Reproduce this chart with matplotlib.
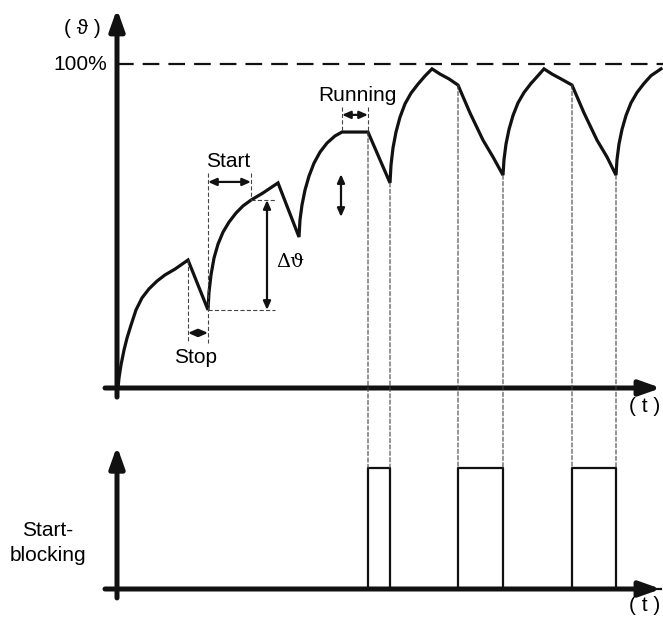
import matplotlib.pyplot as plt
from matplotlib.patches import ConnectionPatch

plt.rcParams['font.family'] = ['Liberation Sans', 'DejaVu Sans']
plt.rcParams['lines.scale_dashes'] = False

# thermal image of the motor (t arbitrary units, theta in % of trip level)
t_curve = [1, 2, 4, 7, 10, 14, 19, 25, 32, 40, 48, 58, 71,
           91, 92, 94, 97, 101, 106, 112, 119, 126, 134, 146, 161,
           182, 183, 185, 188, 192, 197, 203, 210, 218, 225,
           251, 273, 274, 276, 279, 283, 288, 294, 301, 308, 315,
           323, 332, 341, 353, 366, 376, 386,
           387, 389, 392, 396, 401, 407, 414, 421, 427,
           435, 444, 455, 467, 480, 490, 499,
           500, 502, 505, 509, 514, 520, 527, 534, 544]
theta_curve = [0, 3.1, 7.1, 11.7, 15.4, 19.4, 24.1, 27.8, 30.6, 33.0, 34.9, 36.7, 39.5,
               24.1, 29.6, 34.9, 40.1, 44.4, 48.1, 51.2, 54.0, 56.2, 58.0, 60.2, 63.3,
               46.6, 51.9, 56.5, 61.1, 65.4, 69.4, 72.8, 75.6, 77.8, 79.0,
               79.0, 63.3, 68.8, 74.1, 79.0, 83.6, 87.7, 91.0, 93.8, 96.3, 98.5,
               96.9, 95.4, 93.5, 84.9, 76.5, 71.3, 65.7,
               70.5, 75.3, 79.8, 84.1, 88.0, 91.2, 94.0, 96.4, 98.5,
               96.9, 95.4, 93.5, 84.9, 76.5, 71.3, 65.7,
               70.5, 75.3, 79.8, 84.1, 88.0, 91.2, 94.0, 96.4, 98.5]

# start blocking signal
block_on = [251, 341, 455]
block_off = [273, 386, 499]
t_end = 544

# guide lines from curve down to the blocking signal
guide_t = [251, 273, 341, 386, 455, 499]
guide_theta = [79.0, 63.3, 93.5, 65.7, 93.5, 65.7]

# annotation levels
stop_t = (71, 91)
start_t = (91, 134)
run_t = (225, 251)
dtheta = (24.1, 58.0)

W, H = 663, 621
PXU = 3.24  # px per % in top panel
fig = plt.figure(figsize=(W / 100, H / 100), dpi=100)
ax = fig.add_axes([0, 221 / H, 1, 400 / H])
ax.set_xlim(-117, W - 117)
ax.set_ylim((388 - 400) / PXU, 388 / PXU)
ax.axis('off')
ax2 = fig.add_axes([0, 0, 1, 221 / H])
ax2.set_xlim(-117, W - 117)
ax2.set_ylim((589 - 621) / 121, (589 - 400) / 121)
ax2.axis('off')

axis_arrow = dict(arrowstyle='-|>,head_length=0.9,head_width=0.32', lw=3.6,
                  color='#111111', mutation_scale=14, shrinkA=0, shrinkB=0)
small_arrow = dict(arrowstyle='<|-|>,head_length=0.5,head_width=0.22', lw=1.6,
                   color='#111111', mutation_scale=10, shrinkA=0, shrinkB=0)
thin = dict(color='#444444', lw=0.8, dashes=(3, 1.6))

# ---- top panel ----
ax.annotate('', xy=(0, 117), xytext=(0, -2.8), arrowprops=axis_arrow)
ax.annotate('', xy=(544, 0), xytext=(-12, 0), arrowprops=axis_arrow)
ax.plot([0, 546], [100, 100], color='#111111', lw=1.6, dashes=(12, 6.5))
ax.plot(t_curve, theta_curve, color='#111111', lw=2.3, solid_joinstyle='miter')

ax.text(-10, 100, '100%', ha='right', va='center', fontsize=15)
ax.text(-35, 111, '( ϑ )', ha='center', va='center', fontsize=15)
ax.text(528, -5.8, '( t )', ha='center', va='center', fontsize=15)

# stop
ax.plot([stop_t[0]] * 2, [39.5, 13.9], **thin)
ax.plot([stop_t[1]] * 2, [66.4, 13.9], **thin)
ax.annotate('', xy=(stop_t[0], 17.0), xytext=(stop_t[1], 17.0), arrowprops=small_arrow)
ax.text(79, 9.3, 'Stop', ha='center', va='center', fontsize=15)

# start
ax.plot([start_t[1]] * 2, [66.4, 58.0], **thin)
ax.annotate('', xy=(start_t[0], 63.6), xytext=(start_t[1], 63.6), arrowprops=small_arrow)
ax.text(111, 69.8, 'Start', ha='center', va='center', fontsize=15)

# delta theta
ax.plot([134, 158], [dtheta[1]] * 2, **thin)
ax.plot([91, 158], [dtheta[0]] * 2, **thin)
ax.annotate('', xy=(150, dtheta[0]), xytext=(150, dtheta[1]), arrowprops=small_arrow)
ax.text(173, 38.9, 'Δϑ', ha='center', va='center', fontsize=14, family=['DejaVu Serif'])
ax.annotate('', xy=(224, 66.0), xytext=(224, 52.8), arrowprops=small_arrow)

# running
ax.plot([run_t[0]] * 2, [86.7, 79.0], **thin)
ax.plot([run_t[1]] * 2, [86.7, 79.0], **thin)
ax.annotate('', xy=(run_t[0], 84.3), xytext=(run_t[1], 84.3), arrowprops=small_arrow)
ax.text(240, 90.4, 'Running', ha='center', va='center', fontsize=15)

# ---- bottom panel ----
ax2.annotate('', xy=(0, 1.18), xytext=(0, -0.074), arrowprops=axis_arrow)
ax2.annotate('', xy=(544, 0), xytext=(-12, 0), arrowprops=axis_arrow)
sig_t, sig_v = [0], [0]
for a, b in zip(block_on, block_off):
    sig_t += [a, a, b, b]
    sig_v += [0, 1, 1, 0]
sig_t.append(t_end)
sig_v.append(0)
ax2.plot(sig_t, sig_v, color='#111111', lw=1.6)
ax2.text(-69, 0.38, 'Start-\nblocking', ha='center', va='center', fontsize=15,
         linespacing=1.4)
ax2.text(528, -0.14, '( t )', ha='center', va='center', fontsize=15)

for t, v in zip(guide_t, guide_theta):
    con = ConnectionPatch(xyA=(t, v), coordsA=ax.transData, xyB=(t, 1),
                          coordsB=ax2.transData, color='#444444', lw=0.8,
                          linestyle=(0, (3, 1.6)))
    fig.add_artist(con)

fig.savefig('out.png', dpi=100)
